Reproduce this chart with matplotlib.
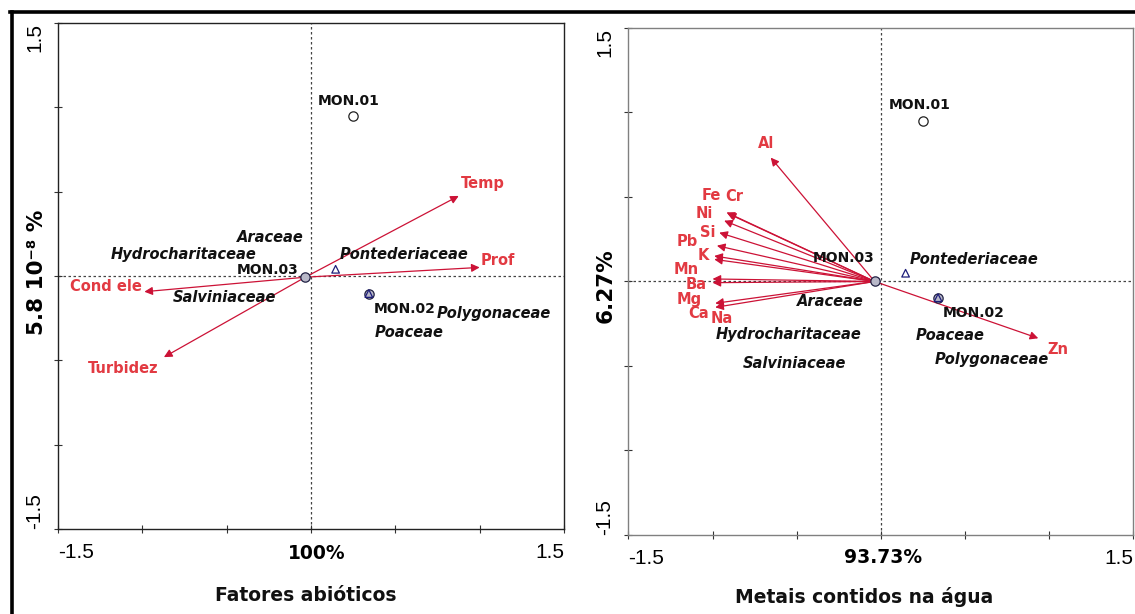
import matplotlib
matplotlib.use("Agg")
import matplotlib.pyplot as plt
from matplotlib.lines import Line2D

# --- abiotic factors biplot ---
abio_vars = ["Temp", "Prof", "Cond ele", "Turbidez"]
abio_x = [0.876, 1.000, -0.988, -0.872]
abio_y = [0.475, 0.051, -0.093, -0.481]

abio_sites = ["MON.01", "MON.02", "MON.03"]
abio_site_x = [0.251, 0.343, -0.034]
abio_site_y = [0.947, -0.104, -0.007]

abio_species = ["Araceae", "Hydrocharitaceae", "Pontederiaceae",
                "Salviniaceae", "Polygonaceae", "Poaceae"]
abio_sp_x = [-0.243, -0.753, 0.551, -0.512, 1.084, 0.584]
abio_sp_y = [0.227, 0.127, 0.127, -0.128, -0.221, -0.332]
abio_tri_x = [0.146, 0.343]
abio_tri_y = [0.040, -0.104]

abio_inertia = "100%"
abio_axis2 = "5.8 10⁻⁸ %"
abio_title = "Fatores abióticos"

# --- metals in water biplot ---
metal_vars = ["Al", "Fe", "Cr", "Ni", "Si", "Pb", "K", "Mn", "Ba", "Mg", "Ca", "Na", "Zn"]
metal_x = [-0.654, -0.917, -0.910, -0.931, -0.960, -0.974, -0.990, -0.990,
           -1.000, -1.000, -0.984, -0.984, 0.937]
metal_y = [0.733, 0.409, 0.403, 0.360, 0.289, 0.212, 0.151, 0.131,
           0.015, -0.007, -0.129, -0.153, -0.336]

metal_sites = ["MON.01", "MON.02", "MON.03"]
metal_site_x = [0.249, 0.341, -0.036]
metal_site_y = [0.952, -0.096, 0.000]

metal_species = ["Pontederiaceae", "Araceae", "Hydrocharitaceae",
                 "Salviniaceae", "Poaceae", "Polygonaceae"]
metal_sp_x = [0.553, -0.298, -0.548, -0.515, 0.411, 0.661]
metal_sp_y = [0.133, -0.118, -0.311, -0.485, -0.321, -0.464]
metal_tri_x = [0.148, 0.341]
metal_tri_y = [0.049, -0.096]

metal_inertia = "93.73%"
metal_axis2 = "6.27%"
metal_title = "Metais contidos na água"

ticks = [-1.5, -1.0, -0.5, 0.0, 0.5, 1.0, 1.5]

# label offsets (points) relative to arrow tips / site symbols
abio_var_off = [(17, 9), (13, 5), (-28, 4), (-29, -8)]
metal_var_off = [(-3, 10), (-11, 12), (5, 12), (-14, 5), (-8, 0), (-21, 3), (-8, 0),
                 (-20, -7), (-12, -4), (-17, -12), (-12, -7), (5, -8), (14, -8)]
abio_site_off = [(-3, 11), (26, -11), (-27, 5)]
metal_site_off = [(-2, 11), (26, -11), (-22, 17)]

ARROW = "#cc1236"
RED = "#e23a42"
NAVY = "#1d1d7a"


def biplot(ax, vx, vy, names, var_off, sx, sy, sites, site_off,
           spx, spy, species, tx, ty, inertia, inertia_pos,
           ytitle, ytitle_pos, title, title_pos, spine_color):
    ax.set_xlim(-1.5, 1.5)
    ax.set_ylim(-1.5, 1.5)
    ax.axhline(0, color="#444", lw=0.9, ls=(0, (2, 2)), zorder=1)
    ax.axvline(0, color="#444", lw=0.9, ls=(0, (2, 2)), zorder=1)

    ox, oy = sx[-1], sy[-1]
    for name, x, y, off in zip(names, vx, vy, var_off):
        ax.annotate("", xy=(x, y), xytext=(ox, oy),
                    arrowprops=dict(arrowstyle="-|>", color=ARROW, lw=0.9,
                                    mutation_scale=12, shrinkA=0, shrinkB=0),
                    zorder=3)
        ax.annotate(name, (x, y), xytext=off, textcoords="offset points",
                    ha="center", va="center", color=RED, fontsize=10.5,
                    fontweight="bold", zorder=4)

    # sites
    ax.scatter(sx[:1], sy[:1], s=45, facecolor="white", edgecolor="#222",
               lw=0.9, zorder=5)
    ax.scatter(sx[1:], sy[1:], s=45, facecolor="#b8b8c8", edgecolor="#222244",
               lw=0.9, zorder=5)
    ax.scatter(tx, ty, s=30, marker="^", facecolor="none", edgecolor=NAVY,
               lw=0.9, zorder=6)
    for name, x, y, off in zip(sites, sx, sy, site_off):
        ax.annotate(name, (x, y), xytext=off, textcoords="offset points",
                    ha="center", va="center", fontsize=10, fontweight="bold",
                    color="#111", zorder=6)

    for name, x, y in zip(species, spx, spy):
        ax.text(x, y, name, ha="center", va="center", fontsize=10.5,
                fontweight="bold", fontstyle="italic", color="#111", zorder=6)

    ax.set_xticks(ticks)
    ax.set_yticks(ticks)
    ax.set_xticklabels(["-1.5"] + [""] * 5 + ["1.5"])
    ax.set_yticklabels(["-1.5"] + [""] * 5 + ["1.5"], rotation=90)
    xl = ax.get_xticklabels()
    xl[0].set_ha("left")
    xl[-1].set_ha("right")
    yl = ax.get_yticklabels()
    yl[0].set_va("bottom")
    yl[-1].set_va("top")
    ax.tick_params(direction="inout", length=6, width=0.8, color="#333",
                   labelsize=15, pad=7)
    for lab in xl + yl:
        lab.set_family("Liberation Sans")

    for sp in ax.spines.values():
        sp.set_color(spine_color)
        sp.set_linewidth(1.0)

    ax.text(*inertia_pos, inertia, transform=ax.transAxes, ha="center",
            va="center", fontsize=13.5, fontweight="bold")
    ax.text(*ytitle_pos, ytitle, transform=ax.transAxes, ha="center",
            va="center", rotation=90, fontsize=15.5, fontweight="bold")
    ax.text(*title_pos, title, transform=ax.transAxes, ha="center",
            va="center", fontsize=13.5, fontweight="bold", color="#111")


fig = plt.figure(figsize=(11.35, 6.14), dpi=100)
ax1 = fig.add_axes([0.0511, 0.1384, 0.4458, 0.8241])
ax2 = fig.add_axes([0.5537, 0.1287, 0.4445, 0.8257])

biplot(ax1, abio_x, abio_y, abio_vars, abio_var_off,
       abio_site_x, abio_site_y, abio_sites, abio_site_off,
       abio_sp_x, abio_sp_y, abio_species, abio_tri_x, abio_tri_y,
       abio_inertia, (0.512, -0.049), abio_axis2, (-0.042, 0.508),
       abio_title, (0.49, -0.132), "#222")
biplot(ax2, metal_x, metal_y, metal_vars, metal_var_off,
       metal_site_x, metal_site_y, metal_sites, metal_site_off,
       metal_sp_x, metal_sp_y, metal_species, metal_tri_x, metal_tri_y,
       metal_inertia, (0.504, -0.045), metal_axis2, (-0.045, 0.4915),
       metal_title, (0.468, -0.122), "#808080")

# heavy outer frame along the top and left edges
fx, fy = 11.5 / 1135, 1 - 11.5 / 614
fig.add_artist(Line2D([fx, fx], [0, fy], color="black", lw=2.6,
                      transform=fig.transFigure))
fig.add_artist(Line2D([fx - 0.001, 1], [fy, fy], color="black", lw=2.6,
                      transform=fig.transFigure))

fig.savefig("out.png", dpi=100)
